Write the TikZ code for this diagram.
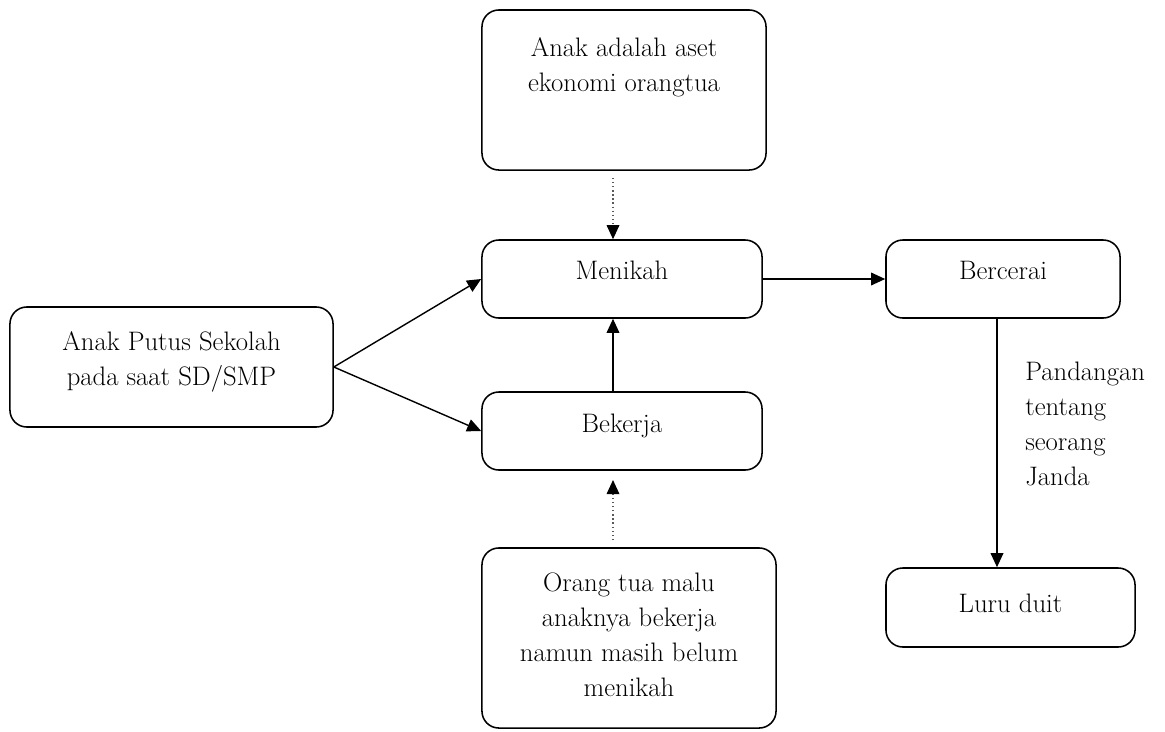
\documentclass[tikz,border=0pt]{standalone}
\usepackage{tikz}
\usetikzlibrary{arrows.meta}

\begin{document}
\begin{tikzpicture}[x=0.025cm, y=-0.025cm, >={Triangle[length=10pt,width=9pt]},
  box/.style={draw, line width=1.1pt, rounded corners=12pt, inner sep=0pt},
  txt/.style={align=center, anchor=north, inner sep=0pt, font=\fontsize{19}{24.8}\selectfont},
  dots/.style={-{Triangle[length=10pt,width=9pt,black]}, dotted, line width=0.9pt, gray!70!black}]
  \useasboundingbox (0,0) rectangle (1165,731);

  % Boxes
  \node[box, minimum width=7.1cm, minimum height=4cm] (aset) at (624,90) {};
  \node[box, minimum width=7cm, minimum height=1.95cm] (nikah) at (622,279) {};
  \node[box, minimum width=5.85cm, minimum height=1.95cm] (cerai) at (1003,279) {};
  \node[box, minimum width=8.075cm, minimum height=3cm] (putus) at (171.5,367) {};
  \node[box, minimum width=7cm, minimum height=1.95cm] (kerja) at (622,431) {};
  \node[box, minimum width=7.35cm, minimum height=4.5cm] (malu) at (629,638) {};
  \node[box, minimum width=6.225cm, minimum height=1.975cm] (luru) at (1010.5,607.5) {};

  % Texts
  \node[txt] (asettxt) at (624,37) {Anak adalah aset\\ekonomi orangtua};
  \node[txt] (nikahtxt) at (622,261) {Menikah};
  \node[txt] (ceraitxt) at (1003,261) {Bercerai};
  \node[txt] (putustxt) at (171.5,331) {Anak Putus Sekolah\\pada saat SD/SMP};
  \node[txt] (kerjatxt) at (622,414) {Bekerja};
  \node[txt] (malutxt) at (629,573) {Orang tua malu\\anaknya bekerja\\namun masih belum\\menikah};
  \node[txt] (lurutxt) at (1010.5,594) {Luru duit};
  \node[txt, anchor=north west, align=left] (janda) at (1025,362) {Pandangan\\tentang\\seorang\\Janda};

  % Arrows
  \coordinate (up) at (613,178);
  \coordinate (down) at (613,540);
  \coordinate (downend) at (613,480);
  \coordinate (side) at (997,318);
  \draw[dots] (up) -- (up |- nikah.north);
  \draw[->, line width=1pt] (putus.east) -- (nikah.west);
  \draw[->, line width=1pt] (putus.east) -- (kerja.west);
  \draw[->, line width=1pt] (kerja.north -| up) -- (nikah.south -| up);
  \draw[dots] (down) -- (downend);
  \draw[->, line width=1pt] (nikah.east) -- (cerai.west);
  \draw[->, line width=1pt] (side) -- (side |- luru.north);
\end{tikzpicture}
\end{document}
